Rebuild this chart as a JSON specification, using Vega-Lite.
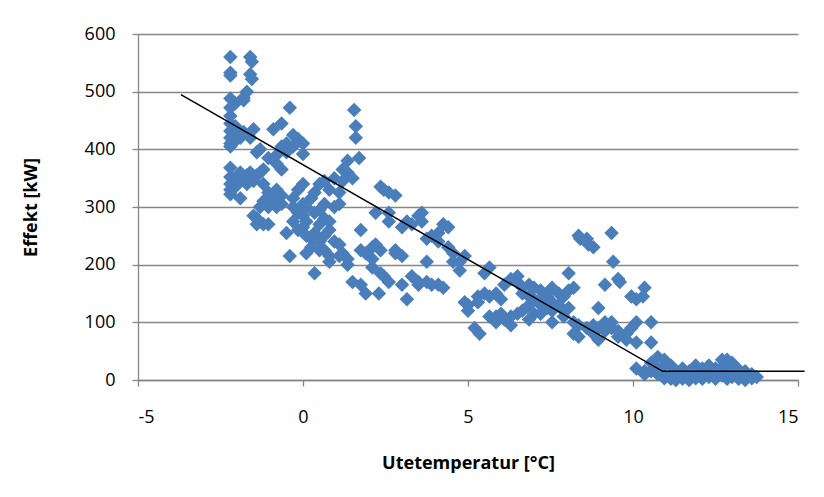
{
  "$schema": "https://vega.github.io/schema/vega-lite/v6.json",
  "width": 660,
  "height": 346,
  "autosize": {"type": "none"},
  "padding": {"left": 138, "top": 34, "right": 26, "bottom": 117},
  "background": "white",
  "config": {
    "view": {"stroke": null},
    "font": "Open Sans",
    "axis": {
      "labelFont": "Open Sans",
      "labelFontSize": 18,
      "labelColor": "#000000",
      "titleFont": "Open Sans",
      "titleFontSize": 18,
      "titleFontWeight": "bold",
      "titleColor": "#000000",
      "domainColor": "#868686",
      "tickColor": "#868686",
      "gridColor": "#868686",
      "tickSize": 6,
      "domainWidth": 1.3,
      "gridWidth": 1.3,
      "tickWidth": 1.3
    }
  },
  "datasets": {
    "pts": [
      {"t":-2.2,"p":560},{"t":-2.2,"p":533},{"t":-2.2,"p":528},{"t":-2.2,"p":488},{"t":-2.2,"p":472},{"t":-2.2,"p":458},{"t":-2.2,"p":445},{"t":-2.2,"p":432},{"t":-2.2,"p":420},{"t":-2.2,"p":410},{"t":-2.2,"p":405},{"t":-2.2,"p":368},{"t":-2.2,"p":352},{"t":-2.2,"p":340},{"t":-2.2,"p":330},{"t":-2.2,"p":322},
      {"t":-2.05,"p":480},{"t":-2.05,"p":440},{"t":-2.05,"p":425},{"t":-2.05,"p":415},{"t":-2.05,"p":350},{"t":-2.05,"p":335},
      {"t":-1.9,"p":420},{"t":-1.9,"p":360},{"t":-1.9,"p":345},{"t":-1.9,"p":315},
      {"t":-1.8,"p":490},{"t":-1.8,"p":485},{"t":-1.8,"p":430},
      {"t":-1.7,"p":500},{"t":-1.7,"p":355},{"t":-1.7,"p":340},
      {"t":-1.6,"p":560},{"t":-1.55,"p":552},{"t":-1.6,"p":530},{"t":-1.55,"p":522},{"t":-1.6,"p":420},{"t":-1.6,"p":360},
      {"t":-1.5,"p":435},{"t":-1.5,"p":345},{"t":-1.5,"p":285},
      {"t":-1.4,"p":395},{"t":-1.4,"p":355},{"t":-1.4,"p":280},{"t":-1.4,"p":270},
      {"t":-1.3,"p":400},{"t":-1.3,"p":360},{"t":-1.3,"p":300},
      {"t":-1.2,"p":365},{"t":-1.2,"p":340},{"t":-1.2,"p":310},{"t":-1.2,"p":270},
      {"t":-1.05,"p":385},{"t":-1.05,"p":325},{"t":-1.05,"p":300},{"t":-1.05,"p":270},
      {"t":-0.9,"p":435},{"t":-0.9,"p":310},{"t":-0.9,"p":320},
      {"t":-0.8,"p":390},{"t":-0.8,"p":375},{"t":-0.8,"p":330},{"t":-0.8,"p":300},
      {"t":-0.65,"p":445},{"t":-0.65,"p":405},{"t":-0.65,"p":365},{"t":-0.65,"p":320},{"t":-0.65,"p":305},
      {"t":-0.5,"p":410},{"t":-0.5,"p":395},{"t":-0.5,"p":255},
      {"t":-0.4,"p":472},{"t":-0.4,"p":215},
      {"t":-0.3,"p":425},{"t":-0.3,"p":405},{"t":-0.3,"p":315},{"t":-0.3,"p":300},{"t":-0.3,"p":275},
      {"t":-0.15,"p":418},{"t":-0.15,"p":330},{"t":-0.15,"p":290},{"t":-0.15,"p":260},
      {"t":0.0,"p":410},{"t":0.0,"p":392},{"t":0.0,"p":340},{"t":0.0,"p":305},{"t":0.0,"p":285},{"t":0.0,"p":265},
      {"t":0.1,"p":300},{"t":0.1,"p":275},{"t":0.1,"p":250},{"t":0.1,"p":220},
      {"t":0.25,"p":315},{"t":0.25,"p":245},{"t":0.25,"p":230},
      {"t":0.35,"p":325},{"t":0.35,"p":290},{"t":0.35,"p":255},{"t":0.35,"p":185},
      {"t":0.5,"p":340},{"t":0.5,"p":295},{"t":0.5,"p":270},{"t":0.5,"p":240},{"t":0.5,"p":225},
      {"t":0.65,"p":345},{"t":0.65,"p":305},{"t":0.65,"p":280},{"t":0.65,"p":250},{"t":0.65,"p":225},
      {"t":0.8,"p":330},{"t":0.8,"p":275},{"t":0.8,"p":260},{"t":0.8,"p":215},{"t":0.8,"p":205},
      {"t":0.95,"p":350},{"t":0.95,"p":300},{"t":0.95,"p":240},
      {"t":1.1,"p":325},{"t":1.1,"p":305},{"t":1.1,"p":235},{"t":1.1,"p":215},
      {"t":1.2,"p":365},{"t":1.2,"p":345},{"t":1.2,"p":220},
      {"t":1.35,"p":380},{"t":1.35,"p":360},{"t":1.35,"p":210},{"t":1.35,"p":200},
      {"t":1.5,"p":350},{"t":1.5,"p":170},
      {"t":1.55,"p":468},{"t":1.6,"p":440},{"t":1.6,"p":420},{"t":1.7,"p":385},
      {"t":1.75,"p":260},{"t":1.75,"p":225},{"t":1.75,"p":165},
      {"t":1.9,"p":220},{"t":1.9,"p":150},
      {"t":2.1,"p":230},{"t":2.1,"p":210},{"t":2.1,"p":195},
      {"t":2.2,"p":290},{"t":2.2,"p":235},
      {"t":2.35,"p":335},{"t":2.35,"p":225},{"t":2.35,"p":185},
      {"t":2.45,"p":330},{"t":2.45,"p":180},{"t":2.3,"p":150},
      {"t":2.6,"p":325},{"t":2.6,"p":290},{"t":2.6,"p":275},{"t":2.6,"p":170},
      {"t":2.8,"p":320},{"t":2.8,"p":225},{"t":2.8,"p":220},
      {"t":3.0,"p":265},{"t":3.0,"p":215},{"t":3.0,"p":165},
      {"t":3.15,"p":275},{"t":3.15,"p":140},
      {"t":3.3,"p":270},{"t":3.3,"p":180},
      {"t":3.5,"p":285},{"t":3.5,"p":170},{"t":3.5,"p":165},
      {"t":3.6,"p":290},{"t":3.6,"p":275},
      {"t":3.75,"p":245},{"t":3.75,"p":205},{"t":3.75,"p":170},
      {"t":3.9,"p":250},{"t":3.9,"p":165},
      {"t":4.1,"p":255},{"t":4.1,"p":240},{"t":4.1,"p":165},
      {"t":4.25,"p":270},{"t":4.25,"p":160},
      {"t":4.4,"p":265},{"t":4.4,"p":230},
      {"t":4.55,"p":220},{"t":4.55,"p":205},
      {"t":4.75,"p":205},{"t":4.75,"p":190},
      {"t":4.9,"p":215},{"t":4.9,"p":135},
      {"t":5.0,"p":130},{"t":5.0,"p":120},
      {"t":5.2,"p":90},{"t":5.35,"p":80},
      {"t":5.3,"p":145},{"t":5.3,"p":135},
      {"t":5.5,"p":150},{"t":5.5,"p":185},
      {"t":5.65,"p":195},{"t":5.65,"p":145},{"t":5.65,"p":110},
      {"t":5.85,"p":150},{"t":5.85,"p":110},{"t":5.85,"p":100},
      {"t":6.0,"p":140},{"t":6.0,"p":115},
      {"t":6.1,"p":165},{"t":6.1,"p":105},
      {"t":6.3,"p":175},{"t":6.3,"p":110},{"t":6.3,"p":95},
      {"t":6.5,"p":180},{"t":6.5,"p":170},{"t":6.5,"p":115},
      {"t":6.65,"p":160},{"t":6.65,"p":150},{"t":6.65,"p":120},
      {"t":6.85,"p":165},{"t":6.85,"p":145},{"t":6.85,"p":130},{"t":6.85,"p":105},
      {"t":7.0,"p":160},{"t":7.0,"p":140},{"t":7.0,"p":115},
      {"t":7.2,"p":155},{"t":7.2,"p":140},{"t":7.2,"p":130},{"t":7.2,"p":115},
      {"t":7.4,"p":150},{"t":7.4,"p":145},{"t":7.4,"p":125},
      {"t":7.55,"p":160},{"t":7.55,"p":135},{"t":7.55,"p":120},{"t":7.55,"p":100},
      {"t":7.75,"p":150},{"t":7.75,"p":130},
      {"t":7.9,"p":145},{"t":7.9,"p":120},{"t":7.9,"p":110},
      {"t":8.05,"p":185},{"t":8.05,"p":155},{"t":8.05,"p":125},
      {"t":8.2,"p":160},{"t":8.2,"p":100},{"t":8.2,"p":80},
      {"t":8.35,"p":250},{"t":8.4,"p":245},{"t":8.35,"p":95},{"t":8.35,"p":75},
      {"t":8.6,"p":245},{"t":8.65,"p":235},{"t":8.6,"p":90},
      {"t":8.8,"p":230},{"t":8.8,"p":95},{"t":8.8,"p":80},
      {"t":8.95,"p":125},{"t":8.95,"p":90},{"t":8.95,"p":70},
      {"t":9.15,"p":165},{"t":9.15,"p":100},{"t":9.15,"p":85},
      {"t":9.35,"p":255},{"t":9.4,"p":205},{"t":9.35,"p":100},{"t":9.35,"p":90},
      {"t":9.55,"p":175},{"t":9.6,"p":170},{"t":9.55,"p":85},{"t":9.55,"p":75},
      {"t":9.8,"p":80},{"t":9.8,"p":70},
      {"t":9.95,"p":145},{"t":9.95,"p":90},
      {"t":10.1,"p":140},{"t":10.1,"p":100},{"t":10.1,"p":65},{"t":10.1,"p":20},
      {"t":10.35,"p":160},{"t":10.3,"p":145},{"t":10.35,"p":15},{"t":10.35,"p":10},
      {"t":10.55,"p":100},{"t":10.55,"p":65},{"t":10.55,"p":30},{"t":10.55,"p":15},
      {"t":10.75,"p":40},{"t":10.75,"p":20},{"t":10.75,"p":10},
      {"t":10.95,"p":35},{"t":10.95,"p":25},{"t":10.95,"p":8},{"t":10.95,"p":3},
      {"t":11.15,"p":25},{"t":11.15,"p":10},{"t":11.15,"p":2},
      {"t":11.3,"p":15},{"t":11.3,"p":5},{"t":11.3,"p":0},
      {"t":11.5,"p":20},{"t":11.5,"p":8},{"t":11.5,"p":2},
      {"t":11.7,"p":15},{"t":11.7,"p":5},{"t":11.7,"p":0},
      {"t":11.9,"p":25},{"t":11.9,"p":12},{"t":11.9,"p":3},
      {"t":12.1,"p":20},{"t":12.1,"p":10},{"t":12.1,"p":2},
      {"t":12.3,"p":25},{"t":12.3,"p":15},{"t":12.3,"p":5},
      {"t":12.5,"p":20},{"t":12.5,"p":10},{"t":12.5,"p":2},
      {"t":12.7,"p":35},{"t":12.7,"p":22},{"t":12.7,"p":8},
      {"t":12.85,"p":35},{"t":12.85,"p":28},{"t":12.85,"p":10},{"t":12.85,"p":2},
      {"t":13.0,"p":30},{"t":13.0,"p":15},{"t":13.0,"p":5},
      {"t":13.2,"p":18},{"t":13.2,"p":8},{"t":13.2,"p":2},
      {"t":13.4,"p":15},{"t":13.4,"p":5},{"t":13.4,"p":0},
      {"t":13.6,"p":10},{"t":13.6,"p":3},
      {"t":13.75,"p":5}
    ],
    "fit": [
      {"t":-3.7,"p":495},
      {"t":10.9,"p":15},
      {"t":15.2,"p":15}
    ]
  },
  "layer": [
    {
      "data": {"name": "pts"},
      "mark": {"type": "point", "shape": "diamond", "filled": true, "size": 210, "color": "#4A7EBB", "opacity": 1},
      "encoding": {
        "x": {
          "field": "t", "type": "quantitative",
          "scale": {"domain": [-5, 15], "nice": false, "zero": false},
          "axis": {"values": [-5, 0, 5, 10, 15], "labelExpr": "'' + datum.value", "grid": false, "labelPadding": 22, "title": "Utetemperatur [°C]", "titlePadding": 28}
        },
        "y": {
          "field": "p", "type": "quantitative",
          "scale": {"domain": [0, 600], "nice": false},
          "axis": {"values": [0, 100, 200, 300, 400, 500, 600], "grid": true, "labelPadding": 17, "title": "Effekt [kW]", "titlePadding": 44}
        }
      }
    },
    {
      "data": {"name": "fit"},
      "mark": {"type": "line", "color": "#000000", "strokeWidth": 1.5, "clip": false},
      "encoding": {
        "x": {"field": "t", "type": "quantitative"},
        "y": {"field": "p", "type": "quantitative"}
      }
    }
  ]
}
